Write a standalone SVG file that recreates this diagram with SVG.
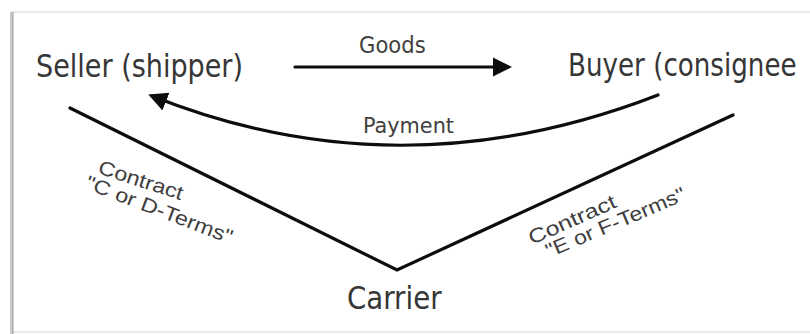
<svg xmlns="http://www.w3.org/2000/svg" width="810" height="334" viewBox="0 0 810 334">
  <style>
    .node-label { font-family: "DejaVu Sans", sans-serif; fill: #363636; }
    .edge-label { font-family: "DejaVu Sans", sans-serif; fill: #404040; }
    .term-label { font-family: "Liberation Sans", Arial, sans-serif; font-size: 20px; fill: #3e3e3e; }
    .link { fill: none; stroke: #0d0d0d; stroke-width: 3.2; stroke-linecap: round; }
  </style>
  <defs>
    <marker id="head" markerUnits="userSpaceOnUse" markerWidth="20" markerHeight="20" viewBox="0 0 20 20" refX="15" refY="10" orient="auto">
      <path d="M0,0.5 L19,10 L0,19.5 z" fill="#0d0d0d"/>
    </marker>
  </defs>

  <!-- page background and framed panel -->
  <rect x="0" y="0" width="810" height="334" fill="#ffffff"/>
  <rect x="12" y="12" width="810" height="320" fill="#ffffff" stroke="#e2e2e2" stroke-width="1.5"/>
  <line x1="11.5" y1="12" x2="11.5" y2="334" stroke="#c8c8c8" stroke-width="3"/>
  <line x1="13" y1="12" x2="13" y2="334" stroke="#9a9a9a" stroke-width="1"/>

  <!-- node labels are set in a horizontally condensed sans -->
  <g id="seller">
    <text class="node-label" transform="translate(36,77) scale(0.845,1)" font-size="32">Seller (shipper)</text>
  </g>
  <g id="buyer">
    <text class="node-label" transform="translate(568,76) scale(0.818,1)" font-size="32">Buyer (consignee</text>
  </g>
  <g id="carrier">
    <text class="node-label" transform="translate(347,309) scale(0.864,1)" font-size="32">Carrier</text>
  </g>

  <g id="connectors">
    <!-- goods flow -->
    <line class="link" x1="295" y1="67" x2="508" y2="67" marker-end="url(#head)"/>
    <text class="edge-label" transform="translate(359,53) scale(0.92,1)" font-size="23">Goods</text>

    <!-- payment flow -->
    <path class="link" d="M658,95 Q400,195 152,96" marker-end="url(#head)"/>
    <text class="edge-label" transform="translate(363,133) scale(0.945,1)" font-size="22">Payment</text>

    <!-- contract legs to the carrier -->
    <polyline class="link" points="70,108 397,270 733,115"/>

    <text class="term-label" transform="translate(97,173) rotate(18)" textLength="88" lengthAdjust="spacingAndGlyphs">Contract</text>
    <text class="term-label" transform="translate(84,188) rotate(21)" textLength="156" lengthAdjust="spacingAndGlyphs">"C or D-Terms"</text>

    <text class="term-label" transform="translate(532,245) rotate(-24)" textLength="94" lengthAdjust="spacingAndGlyphs">Contract</text>
    <text class="term-label" transform="translate(549,258) rotate(-23)" textLength="150" lengthAdjust="spacingAndGlyphs">"E or F-Terms"</text>
  </g>
</svg>
